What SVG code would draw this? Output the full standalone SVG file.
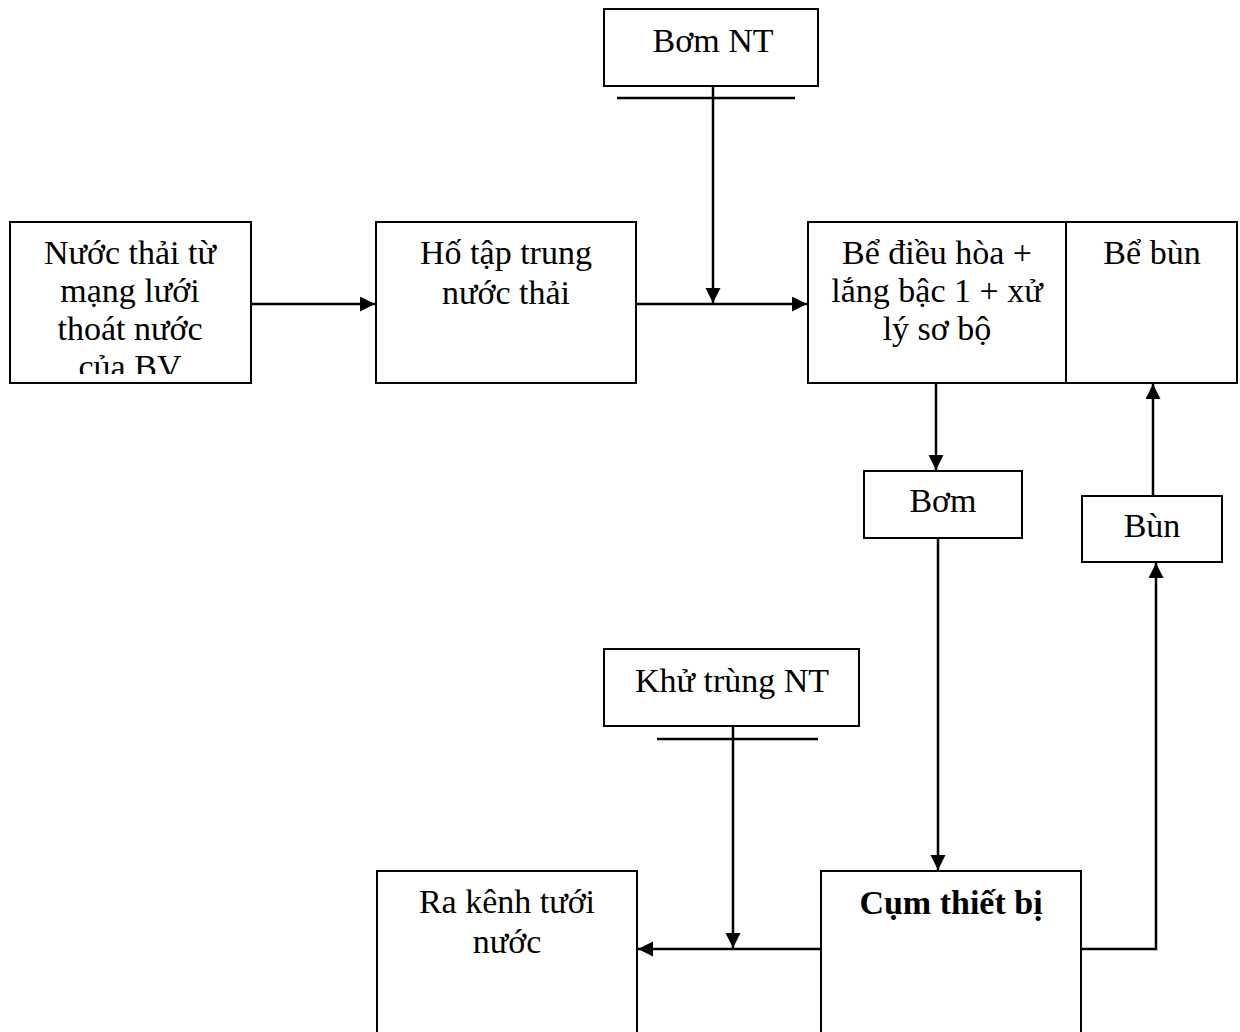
<svg xmlns="http://www.w3.org/2000/svg" width="1240" height="1032" viewBox="0 0 1240 1032">
<style>
.box{fill:#fff;stroke:#000;stroke-width:2}
.t{font-family:"Liberation Serif","Times New Roman",serif;font-size:34px;fill:#000;text-anchor:middle}
.b{font-weight:bold}
.ln{stroke:#000;stroke-width:2.5;fill:none}
</style>
<defs>
<marker id="ah" markerUnits="userSpaceOnUse" markerWidth="16" markerHeight="16" refX="15" refY="7.5" orient="auto">
<path d="M0,0 L15,7.5 L0,15 Z" fill="#000"/>
</marker>
<clipPath id="c1"><rect x="10" y="222" width="241" height="152"/></clipPath>
</defs>
<g id="connectors">
<line class="ln" x1="251" y1="304" x2="375" y2="304" marker-end="url(#ah)"/>
<line class="ln" x1="636" y1="304" x2="807" y2="304" marker-end="url(#ah)"/>
<line class="ln" x1="713" y1="86" x2="713" y2="303" marker-end="url(#ah)"/>
<line class="ln" x1="617" y1="98" x2="795" y2="98"/>
<line class="ln" x1="936" y1="383" x2="936" y2="470" marker-end="url(#ah)"/>
<line class="ln" x1="938" y1="538" x2="938" y2="870" marker-end="url(#ah)"/>
<line class="ln" x1="1153" y1="496" x2="1153" y2="384" marker-end="url(#ah)"/>
<polyline class="ln" points="1081,949 1156,949 1156,563" marker-end="url(#ah)"/>
<line class="ln" x1="821" y1="949" x2="638" y2="949" marker-end="url(#ah)"/>
<line class="ln" x1="733" y1="726" x2="733" y2="948" marker-end="url(#ah)"/>
<line class="ln" x1="657" y1="739" x2="818" y2="739"/>
</g>
<g id="n1">
<rect class="box" x="10" y="222" width="241" height="161"/>
<g clip-path="url(#c1)">
<text class="t" x="130" y="264">Nước thải từ</text>
<text class="t" x="130" y="302">mạng lưới</text>
<text class="t" x="130" y="340">thoát nước</text>
<text class="t" x="130" y="378">của BV</text>
</g>
</g>
<g id="n2">
<rect class="box" x="376" y="222" width="260" height="161"/>
<text class="t" x="506" y="264">Hố tập trung</text>
<text class="t" x="506" y="304">nước thải</text>
</g>
<g id="n3">
<rect class="box" x="604" y="9" width="214" height="77"/>
<text class="t" x="713" y="52">Bơm NT</text>
</g>
<g id="n4">
<rect class="box" x="808" y="222" width="258" height="161"/>
<text class="t" x="937" y="264">Bể điều hòa +</text>
<text class="t" x="937" y="302">lắng bậc 1 + xử</text>
<text class="t" x="937" y="340">lý sơ bộ</text>
</g>
<g id="n5">
<rect class="box" x="1066" y="222" width="171" height="161"/>
<text class="t" x="1152" y="264">Bể bùn</text>
</g>
<g id="n6">
<rect class="box" x="864" y="471" width="158" height="67"/>
<text class="t" x="943" y="512">Bơm</text>
</g>
<g id="n7">
<rect class="box" x="1082" y="496" width="140" height="66"/>
<text class="t" x="1152" y="537">Bùn</text>
</g>
<g id="n8">
<rect class="box" x="604" y="649" width="255" height="77"/>
<text class="t" x="732" y="692">Khử trùng NT</text>
</g>
<g id="n9">
<rect class="box" x="377" y="871" width="260" height="170"/>
<text class="t" x="507" y="913">Ra kênh tưới</text>
<text class="t" x="507" y="953">nước</text>
</g>
<g id="n10">
<rect class="box" x="821" y="871" width="260" height="170"/>
<text class="t b" x="951" y="914">Cụm thiết bị</text>
</g>
</svg>
